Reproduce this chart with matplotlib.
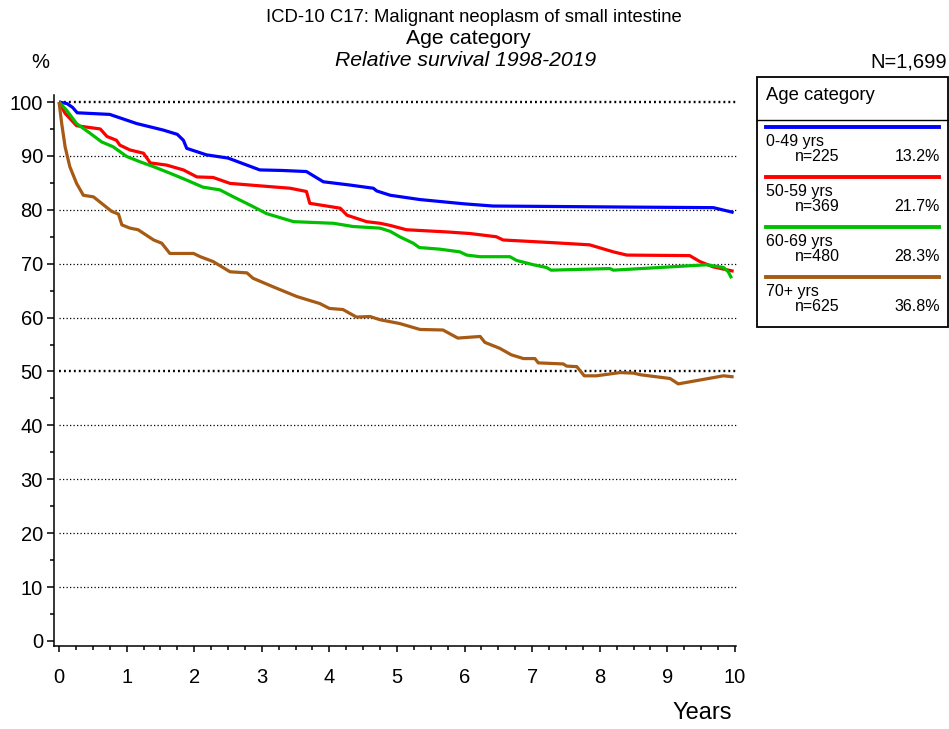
import matplotlib
matplotlib.use("Agg")
import matplotlib.pyplot as plt
from matplotlib.patches import Rectangle
from matplotlib.lines import Line2D
from matplotlib.ticker import MultipleLocator

plt.rcParams['font.family'] = ['Liberation Sans', 'DejaVu Sans']

# ---------------- data ----------------
labels = ["0-49 yrs", "50-59 yrs", "60-69 yrs", "70+ yrs"]
counts = ["n=225", "n=369", "n=480", "n=625"]
shares = ["13.2%", "21.7%", "28.3%", "36.8%"]
colors = ["#0000FF", "#FF0000", "#00C000", "#A65A14"]

t_0_49 = [0, 0.12, 0.2, 0.27, 0.75, 1.15, 1.54, 1.75, 1.84, 1.89, 2.18, 2.5, 2.97, 3.3,
          3.66, 3.91, 4.3, 4.65, 4.7, 4.9, 5.34, 6.0, 6.42, 7.5, 8.5, 9.68, 9.98]
v_0_49 = [100, 99.7, 99.0, 98.0, 97.7, 96.0, 94.8, 94.0, 92.9, 91.4, 90.2, 89.6, 87.4, 87.3,
          87.1, 85.2, 84.6, 84.0, 83.5, 82.7, 81.9, 81.1, 80.7, 80.6, 80.5, 80.4, 79.5]

t_50_59 = [0, 0.09, 0.26, 0.61, 0.71, 0.85, 0.9, 1.05, 1.25, 1.35, 1.59, 1.84, 2.04, 2.28,
           2.53, 2.92, 3.42, 3.66, 3.71, 4.16, 4.26, 4.55, 4.75, 4.9, 5.14, 5.73, 6.08, 6.47,
           6.57, 7.31, 7.85, 8.2, 8.4, 9.33, 9.48, 9.68, 9.98]
v_50_59 = [100, 97.9, 95.6, 95.0, 93.6, 92.9, 92.0, 91.1, 90.5, 88.7, 88.3, 87.4, 86.1, 86.0,
           84.9, 84.5, 84.0, 83.4, 81.2, 80.3, 79.0, 77.8, 77.5, 77.1, 76.3, 75.9, 75.6, 75.0,
           74.4, 73.9, 73.5, 72.2, 71.6, 71.5, 70.4, 69.4, 68.6]

t_60_69 = [0, 0.11, 0.26, 0.46, 0.63, 0.8, 0.9, 1.0, 1.2, 1.4, 1.64, 1.89, 2.13, 2.38, 2.58,
           2.87, 3.07, 3.47, 4.06, 4.35, 4.75, 4.9, 5.04, 5.24, 5.33, 5.63, 5.93, 6.03, 6.23,
           6.67, 6.77, 7.02, 7.21, 7.28, 8.15, 8.2, 9.58, 9.83, 9.9, 9.95]
v_60_69 = [100, 98.5, 96.0, 94.2, 92.6, 91.7, 90.8, 89.9, 88.9, 88.0, 86.8, 85.5, 84.2, 83.7, 82.4,
           80.6, 79.3, 77.8, 77.5, 76.9, 76.6, 76.0, 75.0, 73.8, 73.0, 72.7, 72.2, 71.6, 71.3,
           71.3, 70.6, 69.8, 69.3, 68.8, 69.1, 68.8, 69.8, 69.3, 68.5, 67.3]

t_70p = [0, 0.04, 0.09, 0.16, 0.26, 0.36, 0.51, 0.66, 0.78, 0.88, 0.93, 1.05, 1.17, 1.4, 1.52,
         1.64, 1.99, 2.09, 2.28, 2.53, 2.78, 2.87, 3.17, 3.52, 3.86, 4.0, 4.2, 4.4, 4.6, 4.75,
         5.04, 5.34, 5.68, 5.9, 6.23, 6.3, 6.52, 6.69, 6.87, 7.04, 7.09, 7.46, 7.51, 7.66, 7.77,
         7.95, 8.3, 8.5, 8.6, 9.04, 9.16, 9.83, 9.98]
v_70p = [100, 96.0, 91.7, 88.0, 84.9, 82.7, 82.4, 80.9, 79.7, 79.2, 77.2, 76.6, 76.3, 74.4, 73.8,
         71.9, 71.9, 71.3, 70.4, 68.5, 68.3, 67.3, 65.7, 63.9, 62.6, 61.7, 61.5, 60.1, 60.2, 59.6,
         58.9, 57.8, 57.7, 56.2, 56.5, 55.4, 54.3, 53.1, 52.4, 52.4, 51.6, 51.4, 51.0, 50.9, 49.2,
         49.2, 49.8, 49.7, 49.4, 48.7, 47.7, 49.2, 49.0]

series_t = [t_0_49, t_50_59, t_60_69, t_70p]
series_v = [v_0_49, v_50_59, v_60_69, v_70p]

y_ticks = list(range(0, 101, 10))
x_ticks = list(range(0, 11))

# ---------------- figure ----------------
W, H = 949, 729
fig = plt.figure(figsize=(W / 100, H / 100), dpi=100)


def fx(px):
    return px / W


def fy(py):
    return 1 - py / H


ax = fig.add_axes([fx(54), fy(646), fx(736) - fx(54), fy(95) - fy(646)])
ax.set_xlim(-0.074, 10.015)
ax.set_ylim(-0.93, 101.3)

for s in ['top', 'right']:
    ax.spines[s].set_visible(False)
for s in ['left', 'bottom']:
    ax.spines[s].set_linewidth(1.1)

ax.set_yticks(y_ticks)
ax.set_xticks(x_ticks)
ax.yaxis.set_minor_locator(MultipleLocator(5))
ax.xaxis.set_minor_locator(MultipleLocator(0.25))
ax.tick_params(axis='y', which='major', direction='out', length=5, width=1.1,
               labelsize=14.5, pad=3)
ax.tick_params(axis='y', which='minor', direction='out', length=3, width=1.1)
ax.tick_params(axis='x', which='major', direction='out', length=4.5, width=1.1,
               labelsize=14.5, pad=11)
ax.tick_params(axis='x', which='minor', direction='out', length=3, width=1.1)

# dotted grid lines
for yv in y_ticks[1:]:
    if yv in (50, 100):
        ax.plot([0, 10.03], [yv, yv], color='black', lw=1.7, ls=(0, (0.8, 1.3)),
                zorder=1, clip_on=False)
    else:
        ax.plot([0, 10.03], [yv, yv], color='black', lw=0.9, ls=(0, (1, 1.8)),
                zorder=1, clip_on=False)

for t, v, c in zip(series_t, series_v, colors):
    ax.plot(t, v, color=c, lw=2.3, solid_joinstyle='round', solid_capstyle='butt',
            zorder=3, clip_on=False)

# titles
fig.text(fx(474), fy(17), "ICD-10 C17: Malignant neoplasm of small intestine",
         ha='center', va='center', fontsize=13.3)
fig.text(fx(468), fy(38), "Age category", ha='center', va='center', fontsize=15.2)
fig.text(fx(466), fy(60), "Relative survival 1998-2019", ha='center', va='center',
         fontsize=15.2, style='italic')
fig.text(fx(40), fy(62), "%", ha='center', va='center', fontsize=14.5)
fig.text(fx(947), fy(62), "N=1,699", ha='right', va='center', fontsize=14.5)
fig.text(fx(732), fy(713), "Years", ha='right', va='center', fontsize=17)

# legend box
box_l, box_r, box_t, box_b = 756.5, 947.5, 77, 326.5
fig.patches.append(Rectangle((fx(box_l), fy(box_b)), fx(box_r) - fx(box_l),
                             fy(box_t) - fy(box_b), transform=fig.transFigure,
                             fill=False, edgecolor='black', lw=1.3))
fig.lines.append(Line2D([fx(box_l), fx(box_r)], [fy(119.5), fy(119.5)],
                        transform=fig.transFigure, color='black', lw=1.0))
fig.text(fx(766), fy(96), "Age category", ha='left', va='center', fontsize=13.3)

row0, step = 126.5, 50
for i, (lab, cnt, sh, c) in enumerate(zip(labels, counts, shares, colors)):
    yl = row0 + i * step
    fig.lines.append(Line2D([fx(766), fx(939)], [fy(yl), fy(yl)],
                            transform=fig.transFigure, color=c, lw=2.8))
    fig.text(fx(766), fy(yl + 15), lab, ha='left', va='center', fontsize=11.5)
    fig.text(fx(795), fy(yl + 30), cnt, ha='left', va='center', fontsize=11.5)
    fig.text(fx(940), fy(yl + 30), sh, ha='right', va='center', fontsize=11.5)

fig.savefig("out.png", dpi=100)
